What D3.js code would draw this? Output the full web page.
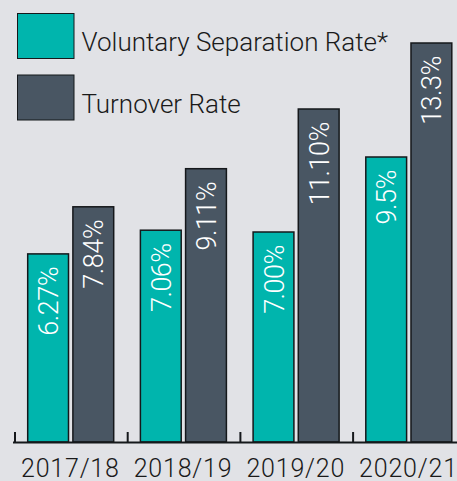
<!DOCTYPE html>
<html>
<head>
<meta charset="utf-8">
<script src="https://cdn.jsdelivr.net/npm/d3@7"></script>
<style>
  html, body { margin: 0; padding: 0; background: #e1e2e6; }
  svg { display: block; }
</style>
</head>
<body>
<svg id="chart" width="457" height="481"></svg>
<script>
const categories = ["2017/18", "2018/19", "2019/20", "2020/21"];
const seriesNames = ["Voluntary Separation Rate*", "Turnover Rate"];
const voluntaryValues = [6.27, 7.06, 7.00, 9.5];
const turnoverValues = [7.84, 9.11, 11.10, 13.3];
const voluntaryLabels = ["6.27%", "7.06%", "7.00%", "9.5%"];
const turnoverLabels = ["7.84%", "9.11%", "11.10%", "13.3%"];
const colors = ["#00b5ad", "#495663"];

const svg = d3.select("#chart");
const W = 457, H = 481;
svg.append("rect").attr("width", W).attr("height", H).attr("fill", "#e1e2e6");

const baseY = 442;
const x0 = d3.scaleBand().domain(categories).range([15, 15 + 4 * 112.7]).paddingInner(0).paddingOuter(0);
const x1 = d3.scaleBand().domain(seriesNames).range([12.7, 98.7]).paddingInner(0.097).paddingOuter(0);
const y = d3.scaleLinear().domain([0, 14]).range([baseY, baseY - 14 * 30]);

const rows = categories.map((c, i) => ({
  cat: c,
  items: [
    { s: seriesNames[0], v: voluntaryValues[i], label: voluntaryLabels[i], color: colors[0] },
    { s: seriesNames[1], v: turnoverValues[i], label: turnoverLabels[i], color: colors[1] }
  ]
}));

const groups = svg.selectAll("g.grp").data(rows).join("g")
  .attr("class", "grp")
  .attr("transform", d => `translate(${x0(d.cat)},0)`);

groups.selectAll("rect").data(d => d.items).join("rect")
  .attr("x", d => x1(d.s))
  .attr("y", d => y(d.v))
  .attr("width", x1.bandwidth())
  .attr("height", d => baseY - y(d.v))
  .attr("fill", d => d.color)
  .attr("stroke", "#15181b")
  .attr("stroke-width", 1.5);

groups.selectAll("text.val").data(d => d.items).join("text")
  .attr("class", "val")
  .attr("transform", d => `translate(${x1(d.s) + x1.bandwidth() / 2 + 10},${y(d.v) + 13}) rotate(-90)`)
  .attr("text-anchor", "end")
  .attr("fill", "#ffffff")
  .style("font-family", "Roboto, 'Liberation Sans', sans-serif")
  .style("font-weight", 300)
  .style("font-size", "27px")
  .style("letter-spacing", "-0.5px")
  .text(d => d.label);

// axis line and ticks
svg.append("line")
  .attr("x1", 13).attr("x2", W)
  .attr("y1", baseY + 0.5).attr("y2", baseY + 0.5)
  .attr("stroke", "#15181b").attr("stroke-width", 2);

svg.selectAll("line.tick").data(categories).join("line")
  .attr("class", "tick")
  .attr("x1", d => x0(d)).attr("x2", d => x0(d))
  .attr("y1", baseY - 10).attr("y2", baseY)
  .attr("stroke", "#15181b").attr("stroke-width", 2);

svg.selectAll("text.cat").data(categories).join("text")
  .attr("class", "cat")
  .attr("x", d => x0(d) + x0.bandwidth() / 2 - 1)
  .attr("y", 476.5)
  .attr("text-anchor", "middle")
  .attr("fill", "#1a1a1a")
  .style("font-family", "Roboto, 'Liberation Sans', sans-serif")
  .style("font-weight", 300)
  .style("font-size", "25px")
  .style("letter-spacing", "0.8px")
  .text(d => d);

// legend
const legend = svg.selectAll("g.leg").data(seriesNames).join("g")
  .attr("class", "leg")
  .attr("transform", (d, i) => `translate(17.5,${13.5 + i * 61.5})`);
legend.append("rect")
  .attr("width", 56.5).attr("height", 45)
  .attr("fill", (d, i) => colors[i])
  .attr("stroke", "#15181b").attr("stroke-width", 1);
legend.append("text")
  .attr("x", 64).attr("y", 37.5)
  .attr("fill", "#1a1a1a")
  .style("font-family", "Roboto, 'Liberation Sans', sans-serif")
  .style("font-weight", 300)
  .style("font-size", "26px")
  .text(d => d);
</script>
</body>
</html>
